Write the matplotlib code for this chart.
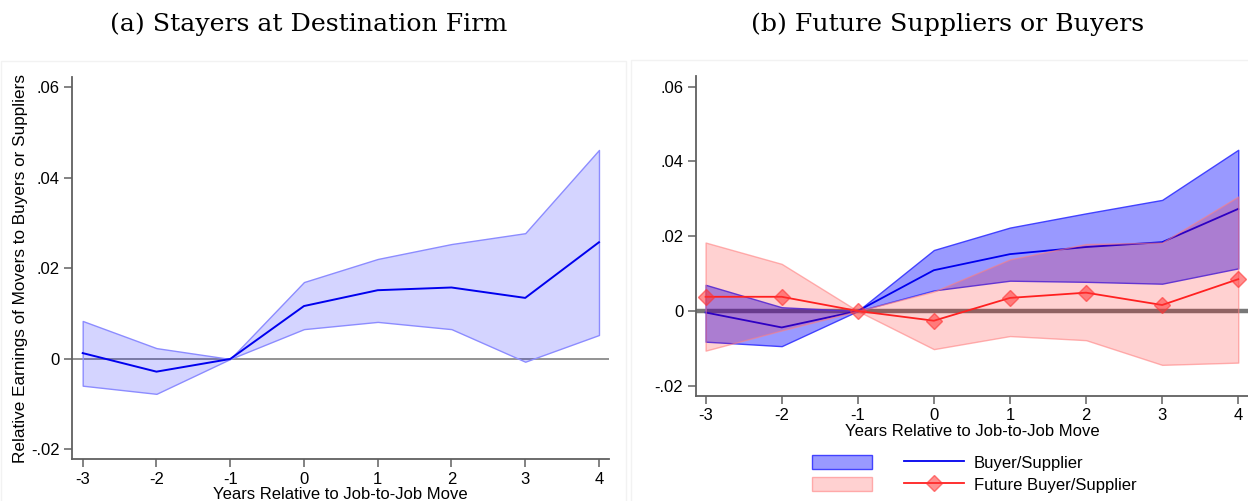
import matplotlib
matplotlib.use("Agg")
import matplotlib.pyplot as plt
from matplotlib.patches import Patch, Rectangle
from matplotlib.lines import Line2D

# ---- data ----
years = [-3, -2, -1, 0, 1, 2, 3, 4]

# Panel (a): stayers at destination firm
a_est = [0.0013, -0.0028, 0.0, 0.0117, 0.0152, 0.0158, 0.0135, 0.0258]
a_hi = [0.0084, 0.0024, 0.0, 0.0170, 0.0221, 0.0254, 0.0278, 0.0462]
a_lo = [-0.0059, -0.0077, 0.0, 0.0066, 0.0082, 0.0066, -0.0006, 0.0053]

# Panel (b): buyer/supplier
bs_est = [-0.0004, -0.0044, 0.0, 0.0109, 0.0152, 0.0171, 0.0184, 0.0273]
bs_hi = [0.0070, 0.0010, 0.0, 0.0163, 0.0223, 0.0261, 0.0297, 0.0431]
bs_lo = [-0.0082, -0.0094, 0.0, 0.0055, 0.0081, 0.0078, 0.0073, 0.0114]

# Panel (b): future buyer/supplier
fbs_est = [0.0038, 0.0038, 0.0, -0.0026, 0.0035, 0.0049, 0.0016, 0.0085]
fbs_hi = [0.0183, 0.0126, 0.0, 0.0052, 0.0138, 0.0179, 0.0183, 0.0306]
fbs_lo = [-0.0106, -0.0052, 0.0, -0.0102, -0.0067, -0.0078, -0.0144, -0.0138]

yticks = [-0.02, 0, 0.02, 0.04, 0.06]
ytick_labels = ["-.02", "0", ".02", ".04", ".06"]

title_a = "(a) Stayers at Destination Firm"
title_b = "(b) Future Suppliers or Buyers"
xlabel = "Years Relative to Job-to-Job Move"
ylabel_a = "Relative Earnings of Movers to Buyers or Suppliers"
legend_labels = ["Buyer/Supplier", "Future Buyer/Supplier"]

plt.rcParams['font.family'] = ['Liberation Sans', 'DejaVu Sans']

W, H = 1248, 501
fig = plt.figure(figsize=(W / 100, H / 100), dpi=100)

# faint panel frames
fig.add_artist(Rectangle((0.5 / W, -0.01), 625 / W, 1 - 61 / H + 0.01, transform=fig.transFigure,
                         fill=False, edgecolor='#f2f2f2', lw=1))
fig.add_artist(Rectangle((631 / W, -0.01), 620 / W, 1 - 60 / H + 0.01, transform=fig.transFigure,
                         fill=False, edgecolor='#f2f2f2', lw=1))

spine_col = '#606060'


def style_axes(ax):
    for s in ['top', 'right']:
        ax.spines[s].set_visible(False)
    for s in ['left', 'bottom']:
        ax.spines[s].set_color(spine_col)
        ax.spines[s].set_linewidth(1.3)
    ax.tick_params(axis='both', direction='out', length=6, width=1.1, color=spine_col,
                   labelsize=12, labelcolor='black', pad=3)
    ax.set_xticks(years)
    ax.set_xticklabels([str(y) for y in years])
    ax.set_yticks(yticks)
    ax.set_yticklabels(ytick_labels)


# ---- panel (a) ----
axa = fig.add_axes([72 / W, 1 - 459.3 / H, (609.3 - 72) / W, (459.3 - 77) / H])
axa.set_xlim(-3.145, 4.14)
axa.set_ylim(-0.02217, 0.06232)
axa.axhline(0, color='#808080', lw=1.2, zorder=1)
axa.fill_between(years, a_lo, a_hi, facecolor=(0, 0, 1, 0.17), edgecolor=(0.55, 0.55, 1, 1),
                 lw=1.0, zorder=2)
axa.plot(years, a_est, color='#0000ee', lw=1.4, zorder=3)
style_axes(axa)
axa.set_xlabel(xlabel, fontsize=12, labelpad=0)
axa.set_ylabel(ylabel_a, fontsize=12.3, labelpad=2)

# ---- panel (b) ----
axb = fig.add_axes([695.7 / W, 1 - 396 / H, (1248.5 - 695.7) / W, (396 - 76) / H])
axb.set_xlim(-3.13, 4.135)
axb.set_ylim(-0.02273, 0.06283)
axb.axhline(0, color='#606060', lw=3.2, alpha=0.85, zorder=1)
axb.fill_between(years, bs_lo, bs_hi, facecolor=(0, 0, 1, 0.4), edgecolor=(0.2, 0.2, 1, 0.9),
                 lw=1.0, zorder=2)
axb.plot(years, bs_est, color='#0000ee', lw=1.3, zorder=3)
axb.fill_between(years, fbs_lo, fbs_hi, facecolor=(1, 0, 0, 0.18), edgecolor=(1, 0.5, 0.5, 0.6),
                 lw=1.0, zorder=4)
axb.plot(years, fbs_est, color='#ff2020', lw=1.3, zorder=5, marker='D', markersize=8,
         markerfacecolor=(1, 0.2, 0.2, 0.55), markeredgecolor=(1, 0.2, 0.2, 0.6))
style_axes(axb)
axb.set_xlabel(xlabel, fontsize=12, labelpad=0)

# titles
fig.text(309 / W, 1 - 24 / H, title_a, ha='center', va='center', fontsize=18.2,
         family=['DejaVu Serif'])
fig.text(948 / W, 1 - 24 / H, title_b, ha='center', va='center', fontsize=18.2,
         family=['DejaVu Serif'])

# legend
h_blue = Patch(facecolor=(0, 0, 1, 0.4), edgecolor=(0.2, 0.2, 1, 0.9), lw=1.0)
h_red = Patch(facecolor=(1, 0, 0, 0.18), edgecolor=(1, 0.5, 0.5, 0.6), lw=1.0)
l_blue = Line2D([], [], color='#0000ee', lw=1.3)
l_red = Line2D([], [], color='#ff2020', lw=1.3, marker='D', markersize=8,
               markerfacecolor=(1, 0.2, 0.2, 0.55), markeredgecolor=(1, 0.2, 0.2, 0.6))
fig.legend([h_blue, h_red, l_blue, l_red], ["", "", legend_labels[0], legend_labels[1]],
           ncol=2, loc='upper left', bbox_to_anchor=(812 / W, 1 - 455 / H),
           frameon=False, borderpad=0, borderaxespad=0, handlelength=3.6, handleheight=0.95,
           handletextpad=0.6, columnspacing=1.3, labelspacing=0.35, fontsize=12)

fig.savefig("out.png", dpi=100)
